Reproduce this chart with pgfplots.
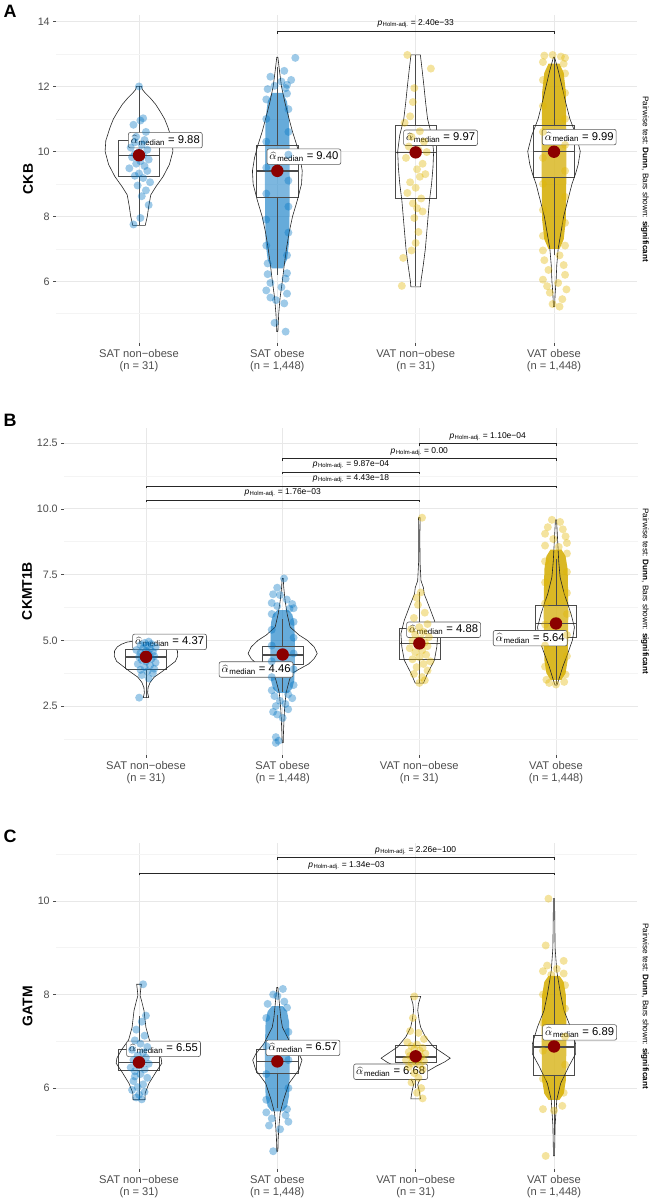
\documentclass[border=0pt]{standalone}
\usepackage{pgfplots}
\pgfplotsset{compat=1.18}
\usepackage{fontspec}
\setmainfont{Liberation Sans}
\definecolor{sblue}{RGB}{0,115,194}
\definecolor{sbluecore}{RGB}{0,115,194}
\definecolor{sgold}{RGB}{225,182,0}
\definecolor{sgoldcore}{RGB}{212,172,0}
\definecolor{tickgrey}{RGB}{77,77,77}
\definecolor{gridmaj}{RGB}{232,232,232}
\definecolor{gridmin}{RGB}{244,244,244}
\definecolor{boxgrey}{RGB}{75,75,75}
\definecolor{meddot}{RGB}{139,0,0}
\pgfplotsset{
 panel/.style={
  scale only axis, width=581bp, xmin=0.4, xmax=4.6, clip=false,
  axis line style={draw=none},
  tick pos=left, tick align=outside,
  major tick length=2.75bp, minor tick length=0pt,
  tick style={color=tickgrey, line width=0.5bp},
  xtick={1,2,3,4},
  xticklabels={{SAT non−obese\\(n = 31)},{SAT obese\\(n = 1,448)},{VAT non−obese\\(n = 31)},{VAT obese\\(n = 1,448)}},
  xticklabel style={align=center, font=\fontsize{11.2}{12.5}\selectfont, text=tickgrey},
  yticklabel style={font=\fontsize{10.8}{12}\selectfont, text=tickgrey},
  xmajorgrids, ymajorgrids, yminorgrids,
  major grid style={draw=gridmaj, line width=0.6bp},
  minor grid style={draw=gridmin, line width=0.6bp},
 },
 pts/.style={only marks, mark=*, mark size=4bp, color=#1, draw opacity=0, fill opacity=0.38, mark options={draw=none, draw opacity=0, fill=#1, fill opacity=0.38}},
 core/.style={draw=none, fill=#1, fill opacity=0.6},
 gcore/.style={draw=none, fill=#1, fill opacity=0.86},
 vio/.style={draw=black!85, line width=0.6bp, fill=none},
 bx/.style={draw=boxgrey, line width=0.6bp, fill=white, fill opacity=0.15},
 wk/.style={draw=boxgrey, line width=0.6bp},
 md/.style={draw=boxgrey, line width=1.5bp},
 br/.style={draw=black!85, line width=0.6bp},
 dot/.style={only marks, mark=*, mark size=6.2bp, color=meddot, draw opacity=0, mark options={draw=none, draw opacity=0, fill=meddot}},
}
\tikzset{
 medlab/.style={draw=black!65, fill=white, rounded corners=2bp, line width=0.6bp, inner xsep=2.5bp, inner ysep=2.8bp, font=\fontsize{11.3}{12}\selectfont, anchor=west},
 plab/.style={anchor=base, yshift=5.5bp, font=\fontsize{8.5}{10}\selectfont, inner sep=0pt},
}
\newcommand{\ah}{\(\widehat{\alpha}\)\kern0.8pt\textsubscript{median}}
\newcommand{\ph}{\textit{p}\kern0.5pt\textsubscript{Holm-adj.}}
\begin{document}
\begin{tikzpicture}
\useasboundingbox (0,0) rectangle (650bp,-1202bp);
% ================= Panel A =================
\begin{axis}[panel, at={(56bp,-15bp)}, anchor=north west, height=328bp,
  ymin=4.1, ymax=14.2, ytick={6,8,10,12,14}, yticklabels={6,8,10,12,14}, minor ytick={5,7,9,11,13}]
\addplot[pts=sblue] coordinates {(1.00,12.00) (1.03,11.02) (1.01,10.95) (0.96,10.82) (1.05,10.60) (0.98,10.45) (1.04,10.35) (0.97,10.28) (1.02,10.20) (0.94,10.12) (1.06,10.05) (1.00,9.98) (0.97,9.92) (1.03,9.88) (0.95,9.82) (1.07,9.75) (1.01,9.70) (0.98,9.62) (1.04,9.55) (0.93,9.48) (1.06,9.40) (1.00,9.32) (0.97,9.25) (1.03,9.18) (1.08,9.05) (0.99,8.95) (1.05,8.80) (1.02,8.62) (1.07,8.35) (1.01,7.95) (0.96,7.75)};
\addplot[core=sbluecore] coordinates {(2.04,6.4) (2.07,6.67) (2.085,7.21) (2.088,8.02) (2.09,9.1) (2.088,10.18) (2.085,10.99) (2.07,11.53) (2.04,11.8) (1.96,11.8) (1.93,11.53) (1.915,10.99) (1.912,10.18) (1.91,9.1) (1.912,8.02) (1.915,7.21) (1.93,6.67) (1.96,6.4) (2.04,6.4)};
\addplot[pts=sblue] coordinates {(2.13,12.88) (2.05,12.48) (2.1,12.2) (2.07,12.05) (1.98,12.02) (1.93,11.92) (2.06,11.95) (2.03,12.15) (1.95,12.3) (2.07,11.78) (1.92,11.6) (2.08,11.3) (1.92,11.0) (2.08,10.6) (1.92,10.3) (2.08,9.9) (1.92,9.5) (2.08,9.1) (1.92,8.7) (2.08,8.3) (1.92,7.9) (2.08,7.5) (1.92,7.1) (2.07,6.8) (1.93,6.55) (2.07,6.25) (1.93,6.22) (2.06,6.08) (1.95,5.95) (2.03,5.82) (1.92,5.72) (2.07,5.62) (1.95,5.5) (1.99,5.42) (2.05,5.32) (1.98,4.72) (2.06,4.45)};
\addplot[pts=sgold] coordinates {(2.94,12.97) (3.11,12.55) (2.99,11.95) (2.98,11.52) (2.96,11.08) (2.92,10.88) (3.03,10.62) (2.97,10.45) (3.06,10.30) (2.95,10.15) (3.02,10.05) (3.08,9.98) (2.99,9.92) (2.93,9.80) (3.05,9.62) (3.01,9.45) (3.07,9.30) (3.03,9.22) (2.96,9.05) (3.00,8.88) (2.94,8.72) (3.04,8.55) (2.98,8.40) (3.01,8.25) (3.05,8.15) (2.99,7.95) (3.02,7.52) (3.00,7.18) (2.97,6.95) (2.91,6.72) (2.90,5.86)};
\addplot[gcore=sgoldcore] coordinates {(4.04,7.0) (4.07,7.29) (4.085,7.86) (4.088,8.71) (4.09,9.85) (4.088,10.99) (4.085,11.85) (4.07,12.42) (4.04,12.7) (3.96,12.7) (3.93,12.42) (3.915,11.85) (3.912,10.99) (3.91,9.85) (3.912,8.71) (3.915,7.86) (3.93,7.29) (3.96,7.0) (4.04,7.0)};
\addplot[pts=sgold] coordinates {(3.93,12.95) (4.05,12.92) (3.99,12.97) (4.08,12.88) (3.92,12.75) (4.07,12.7) (4.08,12.4) (3.92,12.2) (4.08,11.8) (3.92,11.4) (4.08,11.0) (3.92,10.6) (4.08,10.2) (3.92,9.8) (4.08,9.4) (3.92,9.0) (4.08,8.6) (3.92,8.2) (4.08,7.8) (3.92,7.4) (4.08,7.1) (3.92,6.95) (4.04,6.8) (3.93,6.65) (4.07,6.5) (3.96,6.35) (4.08,6.2) (3.92,6.05) (4.03,5.95) (3.95,5.85) (4.09,5.75) (3.97,5.65) (4.06,5.45) (3.99,5.3) (4.04,5.22)};
\addplot[bx] coordinates {(0.85,9.22) (1.15,9.22) (1.15,10.33) (0.85,10.33) (0.85,9.22)};
\addplot[wk] coordinates {(1,7.72) (1,9.22)}; \addplot[wk] coordinates {(1,10.33) (1,12.0)};
\addplot[md] coordinates {(0.85,9.88) (1.15,9.88)};
\addplot[bx] coordinates {(1.85,8.6) (2.15,8.6) (2.15,10.2) (1.85,10.2) (1.85,8.6)};
\addplot[wk] coordinates {(2,6.2) (2,8.6)}; \addplot[wk] coordinates {(2,10.2) (2,12.6)};
\addplot[md] coordinates {(1.85,9.40) (2.15,9.40)};
\addplot[bx] coordinates {(2.85,8.55) (3.15,8.55) (3.15,10.79) (2.85,10.79) (2.85,8.55)};
\addplot[wk] coordinates {(3,5.85) (3,8.55)}; \addplot[wk] coordinates {(3,10.79) (3,12.97)};
\addplot[md] coordinates {(2.85,9.97) (3.15,9.97)};
\addplot[bx] coordinates {(3.85,9.19) (4.15,9.19) (4.15,10.79) (3.85,10.79) (3.85,9.19)};
\addplot[wk] coordinates {(4,6.8) (4,9.19)}; \addplot[wk] coordinates {(4,10.79) (4,12.9)};
\addplot[md] coordinates {(3.85,9.99) (4.15,9.99)};
\addplot[vio] coordinates {(1.045,7.72) (1.06,8.0) (1.07,8.3) (1.085,8.66) (1.12,8.9) (1.175,9.23) (1.22,9.6) (1.245,10.0) (1.24,10.33) (1.21,10.73) (1.185,11.0) (1.15,11.25) (1.12,11.45) (1.08,11.65) (1.045,11.8) (1.025,11.9) (1.018,12.0) (0.982,12.0) (0.975,11.9) (0.955,11.8) (0.92,11.65) (0.88,11.45) (0.85,11.25) (0.815,11.0) (0.79,10.73) (0.76,10.33) (0.755,10.0) (0.78,9.6) (0.825,9.23) (0.88,8.9) (0.915,8.66) (0.93,8.3) (0.94,8.0) (0.955,7.72) (1.045,7.72)};
\addplot[vio] coordinates {(2.004,4.45) (2.01,5.0) (2.02,5.5) (2.036,6.0) (2.05,6.5) (2.066,7.0) (2.085,7.5) (2.11,8.0) (2.145,8.5) (2.175,9.0) (2.18,9.4) (2.165,9.8) (2.14,10.2) (2.11,10.6) (2.085,11.0) (2.055,11.5) (2.03,12.0) (2.015,12.5) (2.004,12.9) (1.996,12.9) (1.985,12.5) (1.97,12.0) (1.945,11.5) (1.915,11.0) (1.89,10.6) (1.86,10.2) (1.835,9.8) (1.82,9.4) (1.825,9.0) (1.855,8.5) (1.89,8.0) (1.915,7.5) (1.934,7.0) (1.95,6.5) (1.964,6.0) (1.98,5.5) (1.99,5.0) (1.996,4.45) (2.004,4.45)};
\addplot[vio] coordinates {(3.035,5.83) (3.038,6.0) (3.055,6.5) (3.07,7.0) (3.08,7.5) (3.09,8.0) (3.1,8.5) (3.115,9.0) (3.125,9.5) (3.13,10.0) (3.115,10.5) (3.086,11.0) (3.072,11.5) (3.06,12.0) (3.047,12.5) (3.034,12.97) (2.966,12.97) (2.953,12.5) (2.94,12.0) (2.928,11.5) (2.914,11.0) (2.885,10.5) (2.87,10.0) (2.875,9.5) (2.885,9.0) (2.9,8.5) (2.91,8.0) (2.92,7.5) (2.93,7.0) (2.945,6.5) (2.962,6.0) (2.965,5.83) (3.035,5.83)};
\addplot[vio] coordinates {(4.004,5.22) (4.008,5.6) (4.015,6.0) (4.02,6.5) (4.03,7.0) (4.05,7.5) (4.07,8.0) (4.1,8.5) (4.13,9.0) (4.155,9.3) (4.175,9.6) (4.19,10.0) (4.16,10.5) (4.115,11.0) (4.085,11.5) (4.058,12.0) (4.03,12.5) (4.004,12.9) (3.996,12.9) (3.97,12.5) (3.942,12.0) (3.915,11.5) (3.885,11.0) (3.84,10.5) (3.81,10.0) (3.825,9.6) (3.845,9.3) (3.87,9.0) (3.9,8.5) (3.93,8.0) (3.95,7.5) (3.97,7.0) (3.98,6.5) (3.985,6.0) (3.992,5.6) (3.996,5.22) (4.004,5.22)};
\addplot[dot] coordinates {(1,9.88) (2,9.40) (3,9.97) (4,9.99)};
\addplot[br] coordinates {(2,13.63) (2,13.71) (4,13.71) (4,13.63)};
\node[plab] at (axis cs:3,13.71) {\ph{} = 2.40e−33};
\node[medlab] at (axis cs:0.921,10.345) {\ah{} = 9.88};
\node[medlab] at (axis cs:1.923,9.837) {\ah{} = 9.40};
\node[medlab] at (axis cs:2.911,10.42) {\ah{} = 9.97};
\node[medlab] at (axis cs:3.913,10.44) {\ah{} = 9.99};
\end{axis}
% ================= Panel B =================
\begin{axis}[panel, at={(64bp,-428bp)}, anchor=north west, width=574bp, height=327bp,
  ymin=0.64, ymax=13.07, ytick={2.5,5,7.5,10,12.5}, yticklabels={2.5,5.0,7.5,10.0,12.5}, minor ytick={1.25,3.75,6.25,8.75,11.25}]
\addplot[pts=sblue] coordinates {(0.95,2.82) (1.02,3.55) (0.97,3.68) (1.05,3.75) (1.01,3.82) (0.96,3.88) (1.06,3.92) (0.99,3.98) (1.03,4.05) (0.94,4.10) (1.07,4.15) (1.00,4.20) (0.97,4.25) (1.04,4.30) (1.01,4.34) (0.95,4.37) (1.06,4.40) (0.98,4.44) (1.02,4.48) (0.96,4.52) (1.05,4.56) (1.00,4.60) (0.93,4.63) (1.03,4.66) (0.98,4.70) (1.07,4.74) (1.01,4.78) (0.96,4.82) (1.04,4.86) (0.99,4.90) (1.02,4.95)};
\addplot[core=sbluecore] coordinates {(2.04,3.0) (2.07,3.16) (2.085,3.47) (2.088,3.95) (2.09,4.58) (2.088,5.21) (2.085,5.68) (2.07,5.99) (2.04,6.15) (1.96,6.15) (1.93,5.99) (1.915,5.68) (1.912,5.21) (1.91,4.58) (1.912,3.95) (1.915,3.47) (1.93,3.16) (1.96,3.0) (2.04,3.0)};
\addplot[pts=sblue] coordinates {(2.01,7.35) (1.96,7.0) (1.93,6.75) (1.98,6.72) (2.03,6.55) (1.92,6.42) (2.07,6.38) (1.96,6.3) (2.08,6.22) (2.05,6.2) (1.92,6.0) (2.08,5.7) (1.92,5.4) (2.08,5.1) (1.92,4.8) (2.08,4.5) (1.92,4.2) (2.08,3.9) (1.92,3.6) (2.08,3.3) (1.92,3.1) (2.04,2.95) (1.94,2.88) (2.07,2.8) (1.98,2.7) (2.02,2.58) (1.95,2.5) (2.04,2.38) (1.93,2.28) (1.96,2.18) (2.0,2.05) (1.95,1.32) (1.97,1.18) (1.95,1.1)};
\addplot[pts=sgold] coordinates {(3.02,9.66) (3.01,6.82) (2.98,6.62) (2.99,6.35) (3.04,6.05) (2.96,5.85) (3.06,5.62) (3.00,5.50) (2.94,5.42) (3.03,5.32) (2.97,5.22) (3.07,5.12) (3.01,5.05) (2.95,4.98) (3.04,4.92) (2.99,4.86) (3.06,4.78) (2.93,4.70) (3.02,4.62) (2.97,4.55) (3.05,4.45) (3.00,4.36) (2.95,4.28) (3.08,4.20) (3.03,4.10) (2.98,3.98) (3.06,3.85) (2.96,3.72) (3.02,3.60) (3.04,3.48) (3.00,3.38)};
\addplot[gcore=sgoldcore] coordinates {(4.04,3.5) (4.07,3.75) (4.085,4.24) (4.088,4.99) (4.09,5.98) (4.088,6.97) (4.085,7.71) (4.07,8.2) (4.04,8.45) (3.96,8.45) (3.93,8.2) (3.915,7.71) (3.912,6.97) (3.91,5.98) (3.912,4.99) (3.915,4.24) (3.93,3.75) (3.96,3.5) (4.04,3.5)};
\addplot[pts=sgold] coordinates {(3.97,9.58) (4.03,9.5) (3.94,9.3) (4.05,9.22) (3.92,9.05) (4.07,8.95) (3.98,8.85) (4.08,8.7) (3.92,8.6) (4.02,8.55) (4.08,8.3) (3.92,8.0) (4.08,7.6) (3.92,7.2) (4.08,6.8) (3.92,6.4) (4.08,6.0) (3.92,5.6) (4.08,5.2) (3.92,4.8) (4.08,4.4) (3.92,4.0) (4.07,3.7) (3.93,3.5) (4.06,3.42) (4.0,3.32) (3.95,3.38)};
\addplot[bx] coordinates {(0.85,3.91) (1.15,3.91) (1.15,4.66) (0.85,4.66) (0.85,3.91)};
\addplot[wk] coordinates {(1,2.82) (1,3.91)}; \addplot[wk] coordinates {(1,4.66) (1,4.95)};
\addplot[md] coordinates {(0.85,4.36) (1.15,4.36)};
\addplot[bx] coordinates {(1.85,4.08) (2.15,4.08) (2.15,4.77) (1.85,4.77) (1.85,4.08)};
\addplot[wk] coordinates {(2,3.05) (2,4.08)}; \addplot[wk] coordinates {(2,4.77) (2,5.8)};
\addplot[md] coordinates {(1.85,4.44) (2.15,4.44)};
\addplot[bx] coordinates {(2.85,4.28) (3.15,4.28) (3.15,5.44) (2.85,5.44) (2.85,4.28)};
\addplot[wk] coordinates {(3,3.37) (3,4.28)}; \addplot[wk] coordinates {(3,5.44) (3,6.82)};
\addplot[md] coordinates {(2.85,4.88) (3.15,4.88)};
\addplot[bx] coordinates {(3.85,5.13) (4.15,5.13) (4.15,6.33) (3.85,6.33) (3.85,5.13)};
\addplot[wk] coordinates {(4,3.33) (4,5.13)}; \addplot[wk] coordinates {(4,6.33) (4,8.1)};
\addplot[md] coordinates {(3.85,5.64) (4.15,5.64)};
\addplot[vio] coordinates {(1.02,2.82) (1.012,3.0) (1.015,3.2) (1.03,3.4) (1.06,3.6) (1.115,3.8) (1.165,4.0) (1.215,4.2) (1.232,4.4) (1.23,4.6) (1.21,4.75) (1.18,4.85) (1.14,4.93) (1.09,4.97) (0.91,4.97) (0.86,4.93) (0.82,4.85) (0.79,4.75) (0.77,4.6) (0.768,4.4) (0.785,4.2) (0.835,4.0) (0.885,3.8) (0.94,3.6) (0.97,3.4) (0.985,3.2) (0.988,3.0) (0.98,2.82) (1.02,2.82)};
\addplot[vio] coordinates {(2.004,1.1) (2.006,1.5) (2.01,2.0) (2.014,2.4) (2.02,2.75) (2.025,3.0) (2.037,3.25) (2.05,3.5) (2.07,3.75) (2.12,3.9) (2.19,4.1) (2.23,4.3) (2.253,4.5) (2.23,4.75) (2.18,5.0) (2.12,5.2) (2.055,5.5) (2.033,6.0) (2.018,6.5) (2.008,7.0) (2.004,7.35) (1.996,7.35) (1.992,7.0) (1.982,6.5) (1.967,6.0) (1.945,5.5) (1.88,5.2) (1.82,5.0) (1.77,4.75) (1.747,4.5) (1.77,4.3) (1.81,4.1) (1.88,3.9) (1.93,3.75) (1.95,3.5) (1.963,3.25) (1.975,3.0) (1.98,2.75) (1.986,2.4) (1.99,2.0) (1.994,1.5) (1.996,1.1) (2.004,1.1)};
\addplot[vio] coordinates {(3.03,3.37) (3.06,3.74) (3.11,4.24) (3.128,4.75) (3.135,5.25) (3.11,5.76) (3.073,6.27) (3.035,6.77) (3.03,7.0) (3.012,7.27) (3.005,8.0) (3.004,9.0) (3.006,9.66) (2.994,9.66) (2.996,9.0) (2.995,8.0) (2.988,7.27) (2.97,7.0) (2.965,6.77) (2.927,6.27) (2.89,5.76) (2.865,5.25) (2.872,4.75) (2.89,4.24) (2.94,3.74) (2.97,3.37) (3.03,3.37)};
\addplot[vio] coordinates {(4.008,3.3) (4.02,3.5) (4.05,4.0) (4.086,4.5) (4.12,5.0) (4.135,5.5) (4.11,6.0) (4.085,6.4) (4.06,6.77) (4.03,7.4) (4.02,8.0) (4.015,8.5) (4.01,9.0) (4.004,9.58) (3.996,9.58) (3.99,9.0) (3.985,8.5) (3.98,8.0) (3.97,7.4) (3.94,6.77) (3.915,6.4) (3.89,6.0) (3.865,5.5) (3.88,5.0) (3.914,4.5) (3.95,4.0) (3.98,3.5) (3.992,3.3) (4.008,3.3)};
\addplot[dot] coordinates {(1,4.37) (2,4.46) (3,4.88) (4,5.64)};
\addplot[br] coordinates {(3,12.375) (3,12.47) (4,12.47) (4,12.375)};
\addplot[br] coordinates {(2,11.81) (2,11.905) (4,11.905) (4,11.81)};
\addplot[br] coordinates {(2,11.305) (2,11.40) (3,11.40) (3,11.305)};
\addplot[br] coordinates {(1,10.775) (1,10.87) (4,10.87) (4,10.775)};
\addplot[br] coordinates {(1,10.245) (1,10.34) (3,10.34) (3,10.245)};
\node[plab] at (axis cs:3.5,12.47) {\ph{} = 1.10e−04};
\node[plab] at (axis cs:3,11.905) {\ph{} = 0.00};
\node[plab] at (axis cs:2.5,11.40) {\ph{} = 9.87e−04};
\node[plab] at (axis cs:2.5,10.87) {\ph{} = 4.43e−18};
\node[plab] at (axis cs:2,10.34) {\ph{} = 1.76e−03};
\node[medlab] at (axis cs:0.90,4.94) {\ah{} = 4.37};
\node[medlab] at (axis cs:1.533,3.89) {\ah{} = 4.46};
\node[medlab] at (axis cs:2.905,5.40) {\ah{} = 4.88};
\node[medlab] at (axis cs:3.539,5.08) {\ah{} = 5.64};
\end{axis}
% ================= Panel C =================
\begin{axis}[panel, at={(56bp,-843bp)}, anchor=north west, height=326bp,
  ymin=4.27, ymax=11.24, ytick={6,8,10}, yticklabels={6,8,10}, minor ytick={5,7,9,11}]
\addplot[pts=sblue] coordinates {(1.03,8.22) (1.05,7.55) (1.02,7.42) (0.98,7.25) (1.04,7.12) (0.97,7.02) (1.01,6.95) (1.06,6.88) (0.95,6.82) (1.03,6.76) (0.99,6.70) (1.05,6.65) (0.96,6.60) (1.02,6.57) (0.98,6.55) (1.07,6.52) (1.00,6.48) (0.94,6.44) (1.04,6.40) (0.97,6.36) (1.01,6.30) (1.06,6.22) (0.96,6.15) (1.03,6.08) (0.99,6.02) (0.95,5.96) (1.04,5.92) (1.00,5.86) (0.98,5.80) (1.02,5.76) (0.97,6.25)};
\addplot[core=sbluecore] coordinates {(2.04,5.5) (2.07,5.61) (2.085,5.84) (2.088,6.18) (2.09,6.63) (2.088,7.08) (2.085,7.41) (2.07,7.64) (2.04,7.75) (1.96,7.75) (1.93,7.64) (1.915,7.41) (1.912,7.08) (1.91,6.63) (1.912,6.18) (1.915,5.84) (1.93,5.61) (1.96,5.5) (2.04,5.5)};
\addplot[pts=sblue] coordinates {(2.04,8.12) (1.97,8.0) (2.0,7.97) (2.05,7.85) (1.93,7.8) (2.07,7.72) (1.92,7.5) (2.08,7.2) (1.92,6.9) (2.08,6.6) (1.92,6.3) (2.08,6.0) (1.92,5.75) (2.07,5.55) (1.92,5.48) (2.06,5.42) (1.96,5.35) (2.08,5.28) (1.94,5.2) (2.02,5.12) (1.97,4.65)};
\addplot[pts=sgold] coordinates {(2.99,7.96) (2.96,7.22) (3.02,7.18) (3.06,7.05) (2.94,6.98) (3.01,6.93) (2.97,6.90) (3.05,6.86) (2.99,6.83) (3.03,6.80) (2.95,6.77) (3.07,6.74) (3.00,6.71) (2.96,6.69) (3.04,6.67) (2.98,6.64) (3.02,6.62) (2.93,6.60) (3.06,6.58) (3.00,6.56) (2.97,6.53) (3.03,6.50) (2.95,6.45) (3.05,6.40) (2.99,6.32) (3.02,6.22) (2.97,6.12) (3.04,6.00) (3.01,5.90) (3.05,5.78) (2.98,7.5)};
\addplot[gcore=sgoldcore] coordinates {(4.04,5.75) (4.07,5.88) (4.085,6.15) (4.088,6.55) (4.09,7.08) (4.088,7.61) (4.085,8.0) (4.07,8.27) (4.04,8.4) (3.96,8.4) (3.93,8.27) (3.915,8.0) (3.912,7.61) (3.91,7.08) (3.912,6.55) (3.915,6.15) (3.93,5.88) (3.96,5.75) (4.04,5.75)};
\addplot[pts=sgold] coordinates {(3.96,10.05) (3.94,9.05) (4.07,8.72) (3.95,8.62) (4.02,8.55) (3.92,8.5) (4.07,8.45) (3.98,8.42) (4.08,8.2) (3.92,8.0) (4.08,7.7) (3.92,7.4) (4.08,7.1) (3.92,6.8) (4.08,6.5) (3.92,6.2) (4.07,5.9) (3.92,5.55) (4.0,5.52) (4.06,5.62) (3.94,4.55)};
\addplot[bx] coordinates {(0.85,6.37) (1.15,6.37) (1.15,6.83) (0.85,6.83) (0.85,6.37)};
\addplot[wk] coordinates {(1,5.75) (1,6.37)}; \addplot[wk] coordinates {(1,6.83) (1,7.55)};
\addplot[md] coordinates {(0.85,6.55) (1.15,6.55)};
\addplot[bx] coordinates {(1.85,6.32) (2.15,6.32) (2.15,6.82) (1.85,6.82) (1.85,6.32)};
\addplot[wk] coordinates {(2,5.57) (2,6.32)}; \addplot[wk] coordinates {(2,6.82) (2,7.57)};
\addplot[md] coordinates {(1.85,6.57) (2.15,6.57)};
\addplot[bx] coordinates {(2.85,6.55) (3.15,6.55) (3.15,6.92) (2.85,6.92) (2.85,6.55)};
\addplot[wk] coordinates {(3,6.0) (3,6.55)}; \addplot[wk] coordinates {(3,6.92) (3,7.47)};
\addplot[md] coordinates {(2.85,6.67) (3.15,6.67)};
\addplot[bx] coordinates {(3.85,6.28) (4.15,6.28) (4.15,7.13) (3.85,7.13) (3.85,6.28)};
\addplot[wk] coordinates {(4,5.0) (4,6.28)}; \addplot[wk] coordinates {(4,7.13) (4,8.4)};
\addplot[md] coordinates {(3.85,6.88) (4.15,6.88)};
\addplot[vio] coordinates {(1.043,5.75) (1.045,5.9) (1.072,6.1) (1.126,6.36) (1.165,6.53) (1.16,6.64) (1.126,6.82) (1.075,7.03) (1.05,7.3) (1.036,7.66) (1.02,7.85) (1.008,7.98) (1.012,8.1) (1.017,8.22) (0.983,8.22) (0.988,8.1) (0.992,7.98) (0.98,7.85) (0.964,7.66) (0.95,7.3) (0.925,7.03) (0.874,6.82) (0.84,6.64) (0.835,6.53) (0.874,6.36) (0.928,6.1) (0.955,5.9) (0.957,5.75) (1.043,5.75)};
\addplot[vio] coordinates {(2.004,4.65) (2.006,4.9) (2.012,5.2) (2.02,5.47) (2.045,5.75) (2.084,6.1) (2.156,6.39) (2.178,6.6) (2.156,6.73) (2.097,6.95) (2.037,7.3) (2.025,7.5) (2.015,7.8) (2.004,8.15) (1.996,8.15) (1.985,7.8) (1.975,7.5) (1.963,7.3) (1.903,6.95) (1.844,6.73) (1.822,6.6) (1.844,6.39) (1.916,6.1) (1.955,5.75) (1.98,5.47) (1.988,5.2) (1.994,4.9) (1.996,4.65) (2.004,4.65)};
\addplot[vio] coordinates {(3.035,5.77) (3.025,5.95) (3.015,6.07) (3.025,6.15) (3.05,6.25) (3.08,6.35) (3.15,6.47) (3.21,6.56) (3.25,6.64) (3.21,6.72) (3.13,6.88) (3.07,7.1) (3.036,7.3) (3.025,7.45) (3.015,7.66) (3.02,7.8) (3.036,7.96) (2.964,7.96) (2.98,7.8) (2.985,7.66) (2.975,7.45) (2.964,7.3) (2.93,7.1) (2.87,6.88) (2.79,6.72) (2.75,6.64) (2.79,6.56) (2.85,6.47) (2.92,6.35) (2.95,6.25) (2.975,6.15) (2.985,6.07) (2.975,5.95) (2.965,5.77) (3.035,5.77)};
\addplot[vio] coordinates {(4.004,4.55) (4.008,5.2) (4.02,5.75) (4.048,6.1) (4.108,6.47) (4.156,6.73) (4.156,6.95) (4.12,7.3) (4.072,7.66) (4.048,8.0) (4.03,8.32) (4.02,8.5) (4.008,9.0) (4.004,10.05) (3.996,10.05) (3.992,9.0) (3.98,8.5) (3.97,8.32) (3.952,8.0) (3.928,7.66) (3.88,7.3) (3.844,6.95) (3.844,6.73) (3.892,6.47) (3.952,6.1) (3.98,5.75) (3.992,5.2) (3.996,4.55) (4.004,4.55)};
\addplot[dot] coordinates {(1,6.55) (2,6.57) (3,6.68) (4,6.89)};
\addplot[br] coordinates {(2,10.877) (2,10.93) (4,10.93) (4,10.877)};
\addplot[br] coordinates {(1,10.547) (1,10.60) (4,10.60) (4,10.547)};
\node[plab] at (axis cs:3,10.93) {\ph{} = 2.26e−100};
\node[plab] at (axis cs:2.5,10.60) {\ph{} = 1.34e−03};
\node[medlab] at (axis cs:0.908,6.84) {\ah{} = 6.55};
\node[medlab] at (axis cs:1.916,6.86) {\ah{} = 6.57};
\node[medlab] at (axis cs:2.55,6.35) {\ah{} = 6.68};
\node[medlab] at (axis cs:3.916,7.19) {\ah{} = 6.89};
\end{axis}
% ================= outer texts =================
\node[font=\fontsize{18}{20}\selectfont\bfseries] at (10bp,-11bp) {A};
\node[font=\fontsize{18}{20}\selectfont\bfseries] at (10bp,-420.5bp) {B};
\node[font=\fontsize{18}{20}\selectfont\bfseries] at (10bp,-836bp) {C};
\node[rotate=90, font=\fontsize{14}{16}\selectfont\bfseries] at (28bp,-179bp) {CKB};
\node[rotate=90, font=\fontsize{14}{16}\selectfont\bfseries] at (27bp,-591bp) {CKMT1B};
\node[rotate=90, font=\fontsize{14}{16}\selectfont\bfseries] at (27.5bp,-1006bp) {GATM};
\node[rotate=-90, inner sep=0pt, font=\fontsize{8.2}{10}\selectfont] at (645bp,-179bp) {Pairwise test: \textbf{Dunn}, Bars shown: \textbf{significant}};
\node[rotate=-90, inner sep=0pt, font=\fontsize{8.2}{10}\selectfont] at (645bp,-591bp) {Pairwise test: \textbf{Dunn}, Bars shown: \textbf{significant}};
\node[rotate=-90, inner sep=0pt, font=\fontsize{8.2}{10}\selectfont] at (645bp,-1006bp) {Pairwise test: \textbf{Dunn}, Bars shown: \textbf{significant}};
\end{tikzpicture}
\end{document}
